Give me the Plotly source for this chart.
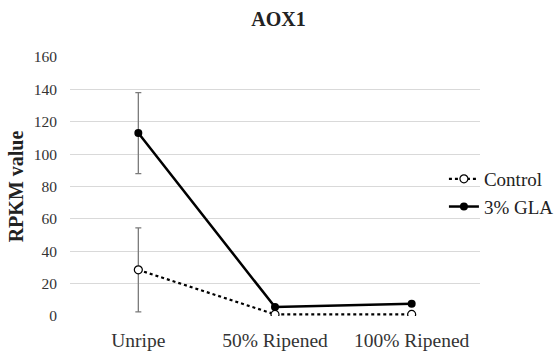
import plotly.graph_objects as go

categories = ["Unripe", "50% Ripened", "100% Ripened"]
control = [28.5, 1.0, 1.0]
control_err = [26.0, 0.0, 0.0]
gla = [113.0, 5.5, 7.5]
gla_err = [25.0, 0.0, 0.0]

FF = "Liberation Serif"

fig = go.Figure()
fig.add_trace(go.Scatter(
    x=categories, y=control, name="Control", mode="lines+markers",
    line=dict(color="black", width=2.2, dash="dot"),
    marker=dict(symbol="circle", size=8, color="white", line=dict(color="black", width=1.2)),
    error_y=dict(type="data", array=control_err, color="#7a7a7a", thickness=1.3, width=3),
))
fig.add_trace(go.Scatter(
    x=categories, y=gla, name="3% GLA", mode="lines+markers",
    line=dict(color="black", width=2.5),
    marker=dict(symbol="circle", size=8, color="black"),
    error_y=dict(type="data", array=gla_err, color="#7a7a7a", thickness=1.3, width=3),
))

fig.update_layout(
    width=557, height=354,
    margin=dict(l=70, r=77, t=57, b=38, autoexpand=False),
    paper_bgcolor="white", plot_bgcolor="white",
    font=dict(family=FF, color="#333333", size=15),
    title=dict(text="<b>AOX1</b>", x=0.5, xanchor="center", y=0.945, yanchor="middle",
               font=dict(size=20, color="#222222", family=FF)),
    xaxis=dict(range=[-0.5, 2.5], showgrid=False, showline=False, zeroline=False,
               ticks="", ticklabelstandoff=10, automargin=False,
               tickfont=dict(family=FF, size=19.5, color="#333333")),
    yaxis=dict(range=[0, 160], dtick=20, showgrid=True, gridcolor="#d9d9d9", gridwidth=1,
               zeroline=False, showline=False, ticks="", ticklabelstandoff=12, automargin=False,
               tickfont=dict(family=FF, size=15.5, color="#333333"),
               title=dict(text="<b>RPKM value</b>", font=dict(family=FF, size=20, color="#222222"),
                          standoff=4)),
    legend=dict(x=0.797, xref="container", xanchor="left", y=0.475, yanchor="middle",
                font=dict(family=FF, size=19, color="#222222"), bgcolor="rgba(0,0,0,0)",
                itemwidth=30, tracegroupgap=0),
    showlegend=True,
)

fig.write_html("out.html")
